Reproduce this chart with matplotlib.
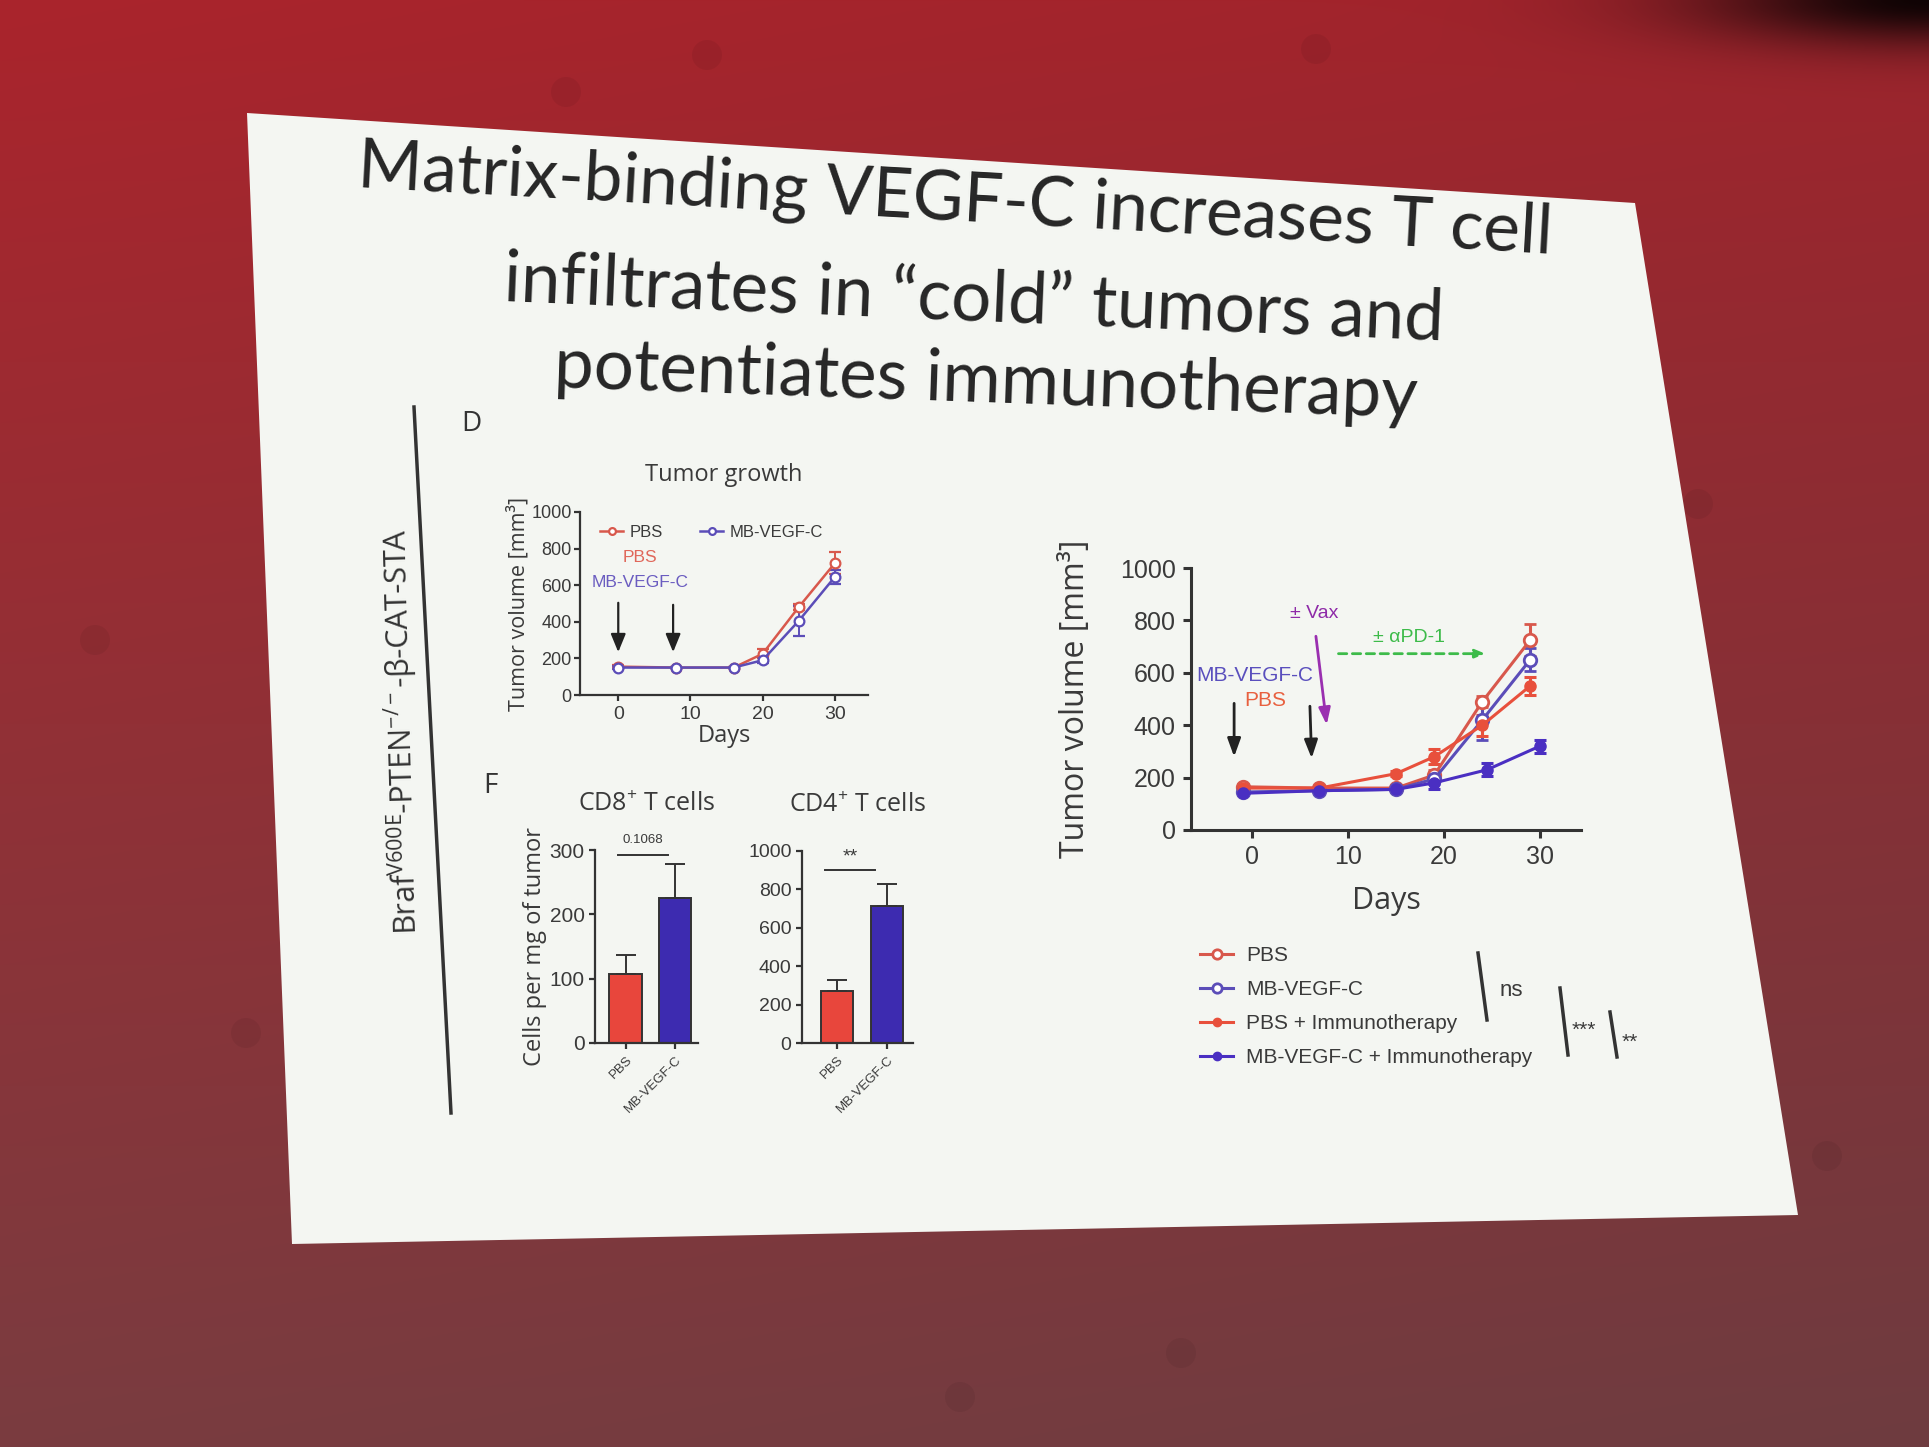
import matplotlib.pyplot as plt
import numpy as np
from matplotlib.patches import Polygon, Circle

plt.rcParams['mathtext.fontset'] = 'custom'
plt.rcParams['mathtext.rm'] = 'Open Sans'
plt.rcParams['mathtext.sf'] = 'Open Sans'
plt.rcParams['mathtext.it'] = 'Open Sans:italic'
plt.rcParams['mathtext.bf'] = 'Open Sans:bold'

W, H = 1929, 1447

# ---- panel D : tumor growth (no immunotherapy)
d_days    = [0, 8, 16, 20, 25, 30]
d_pbs     = [155, 150, 150, 225, 480, 720]
d_pbs_err = [8, 5, 5, 25, 15, 60]
d_mb      = [150, 150, 150, 190, 405, 645]
d_mb_err  = [8, 5, 5, 15, 80, 40]

# ---- panel F : T cell counts
groups   = ['PBS', 'MB-VEGF-C']
cd8_mean = [107, 226]
cd8_err  = [30, 52]
cd4_mean = [272, 716]
cd4_err  = [54, 112]

# ---- right panel : with immunotherapy
r_days      = [-1, 7, 15, 19, 24, 29]
r_days_mbi  = [-1, 7, 15, 19, 24.5, 30]
r_pbs       = [165, 160, 160, 210, 490, 725]
r_pbs_err   = [10, 8, 8, 20, 20, 60]
r_mb        = [145, 150, 155, 195, 420, 650]
r_mb_err    = [8, 8, 8, 20, 75, 45]
r_pbsi      = [160, 160, 215, 280, 400, 550]
r_pbsi_err  = [10, 8, 10, 30, 40, 35]
r_mbi       = [140, 150, 155, 180, 230, 320]
r_mbi_err   = [8, 8, 8, 25, 25, 25]
r_labels = ['PBS', 'MB-VEGF-C', 'PBS + Immunotherapy', 'MB-VEGF-C + Immunotherapy']

c_pbs = '#d8584c'
c_mb = '#5b4db8'
c_pbsi = '#e8503c'
c_mbi = '#4a2fc2'
c_bar_red = '#e8463c'
c_bar_blue = '#3d2bb0'
c_txt = '#3a3a3a'


def fx(x):
    return x / W


def fy(y):
    return 1 - y / H


def box(l, t, r, b):
    return [l / W, 1 - b / H, (r - l) / W, (b - t) / H]


def prism_axes(ax, lw, tsize, ticklen, pad=3.5):
    for s in ['top', 'right']:
        ax.spines[s].set_visible(False)
    for s in ['left', 'bottom']:
        ax.spines[s].set_linewidth(lw)
        ax.spines[s].set_color('#333333')
    ax.tick_params(direction='out', length=ticklen, width=lw, colors='#333333',
                   labelsize=tsize, labelcolor=c_txt, pad=pad)
    ax.patch.set_alpha(0)
    for lab in ax.get_xticklabels() + ax.get_yticklabels():
        lab.set_family('Liberation Sans')


fig = plt.figure(figsize=(W / 100, H / 100), dpi=100)

# background : red projection screen + white slide
bg = fig.add_axes([0, 0, 1, 1])
yy, xx = np.mgrid[0:H, 0:W].astype(float)
t = yy / H
s = xx / W
img = np.zeros((H, W, 3))
img[..., 0] = 170 - 48 * t - 12 * s
img[..., 1] = 36 + 24 * t
img[..., 2] = 44 + 20 * t
dark = np.exp(-(((xx - W) / 230) ** 2 + (yy / 45) ** 2))
img *= (1 - 0.9 * dark)[..., None]
bg.imshow(np.clip(img, 0, 255).astype(np.uint8), extent=(0, W, H, 0), aspect='auto')
for cx, cy in [(566, 92), (707, 55), (1316, 49), (1698, 504), (1827, 1156),
               (246, 1033), (960, 1397), (1181, 1353), (95, 640)]:
    bg.add_patch(Circle((cx, cy), 15, color='#000000', alpha=0.06, lw=0))
bg.add_patch(Polygon([[247, 113], [1635, 203], [1798, 1215], [292, 1244]],
                     closed=True, facecolor='#f4f6f2', edgecolor='none'))
bg.plot([414, 451], [407, 1113], color='#333333', lw=2.5)
bg.set_xlim(0, W)
bg.set_ylim(H, 0)
bg.axis('off')

# title
tfont = dict(family='Lato', color='#262626', ha='center', va='center', rotation_mode='anchor')
fig.text(fx(955), fy(201), 'Matrix-binding VEGF-C increases T cell', fontsize=50, rotation=-3.2, **tfont)
fig.text(fx(974), fy(301), 'infiltrates in \u201ccold\u201d tumors and', fontsize=51, rotation=-2.4, **tfont)
fig.text(fx(986), fy(382), 'potentiates immunotherapy', fontsize=51, rotation=-2.0, **tfont)

fig.text(fx(402), fy(732), 'Braf$^{\\mathrm{V600E}}$-PTEN$^{-/-}$-\u03b2-CAT-STA',
         fontsize=22, family='Open Sans', color='#333333', rotation=91.5,
         ha='center', va='center', rotation_mode='anchor')
fig.text(fx(471), fy(424), 'D', fontsize=20, family='Open Sans', color='#333333', ha='center', va='center')
fig.text(fx(490), fy(786), 'F', fontsize=20, family='Open Sans', color='#333333', ha='center', va='center')

# ---- panel D
ax_d = fig.add_axes(box(580, 512, 868, 695))
e1 = ax_d.errorbar(d_days, d_pbs, yerr=d_pbs_err, color=c_pbs, marker='o', ms=7, mfc='white',
                   mew=1.6, lw=1.8, capsize=4, elinewidth=1.4)
e2 = ax_d.errorbar(d_days, d_mb, yerr=d_mb_err, color=c_mb, marker='o', ms=7, mfc='white',
                   mew=1.6, lw=1.8, capsize=4, elinewidth=1.4)
ax_d.set_xlim(-5.3, 34.6)
ax_d.set_ylim(0, 1000)
ax_d.set_xticks([0, 10, 20, 30])
ax_d.set_yticks([0, 200, 400, 600, 800, 1000])
prism_axes(ax_d, 1.6, 13, 4, pad=2)
ax_d.tick_params(axis='x', labelsize=14, pad=4)
ax_d.set_title('Tumor growth', fontsize=17, family='Open Sans', color=c_txt, pad=22)
ax_d.set_xlabel('Days', fontsize=17, family='Open Sans', color=c_txt, labelpad=1)
ax_d.set_ylabel('Tumor volume [mm\u00b3]', fontsize=15.5, family='Open Sans', color=c_txt, labelpad=1)
ax_d.legend([e1[0], e2[0]], ['PBS', 'MB-VEGF-C'], ncol=2, loc='upper left',
            bbox_to_anchor=(fx(585), fy(510)), bbox_transform=fig.transFigure,
            frameon=False, prop={'family': 'Liberation Sans', 'size': 12},
            handlelength=1.4, handletextpad=0.4, columnspacing=2.2, markerscale=0.7,
            labelcolor=c_txt)
arr = dict(arrowstyle='-|>,head_width=0.45,head_length=1.1', color='#222222', lw=1.6)
ax_d.annotate('', xy=(0, 219), xytext=(0, 519), arrowprops=arr)
ax_d.annotate('', xy=(7.6, 219), xytext=(7.6, 508), arrowprops=arr)
ax_d.text(3.0, 749, 'PBS', color='#e0675a', fontsize=12.5, family='Liberation Sans', ha='center', va='center')
ax_d.text(3.0, 617, 'MB-VEGF-C', color='#6a5cc0', fontsize=12.5, family='Liberation Sans', ha='center', va='center')

# ---- panel F
x_bar = np.arange(len(groups))
ax8 = fig.add_axes(box(595, 850, 698, 1043))
ax8.bar(x_bar, cd8_mean, 0.67, color=[c_bar_red, c_bar_blue], edgecolor='#333333', lw=1.4)
ax8.errorbar(x_bar, cd8_mean, yerr=[[0, 0], cd8_err], fmt='none', ecolor='#333333',
             elinewidth=1.4, capsize=7, capthick=1.4)
ax8.set_xlim(-0.63, 1.47)
ax8.set_ylim(0, 300)
ax8.set_yticks([0, 100, 200, 300])
ax8.set_xticks(x_bar)
ax8.set_xticklabels(groups)
prism_axes(ax8, 1.6, 15, 4)
ax8.tick_params(axis='x', labelsize=9.5)
for lab in ax8.get_xticklabels():
    lab.set_rotation(45)
    lab.set_ha('right')
    lab.set_rotation_mode('anchor')
ax8.set_title(r'CD8$^{+}$ T cells', fontsize=18, family='Open Sans', color=c_txt, pad=28)
ax8.set_ylabel('Cells per mg of tumor', fontsize=17, family='Open Sans', color=c_txt, labelpad=2)
ax8.plot([-0.17, 0.85], [292, 292], color='#333333', lw=1.4, clip_on=False)
ax8.text(0.35, 306, '0.1068', fontsize=9.5, family='Liberation Sans', color=c_txt, ha='center', va='bottom')

ax4 = fig.add_axes(box(802, 851, 913, 1043))
ax4.bar(x_bar, cd4_mean, 0.65, color=[c_bar_red, c_bar_blue], edgecolor='#333333', lw=1.4)
ax4.errorbar(x_bar, cd4_mean, yerr=[[0, 0], cd4_err], fmt='none', ecolor='#333333',
             elinewidth=1.4, capsize=7, capthick=1.4)
ax4.set_xlim(-0.7, 1.52)
ax4.set_ylim(0, 1000)
ax4.set_yticks([0, 200, 400, 600, 800, 1000])
ax4.set_xticks(x_bar)
ax4.set_xticklabels(groups)
prism_axes(ax4, 1.6, 14, 4)
ax4.tick_params(axis='x', labelsize=9.5)
for lab in ax4.get_xticklabels():
    lab.set_rotation(45)
    lab.set_ha('right')
    lab.set_rotation_mode('anchor')
ax4.set_title(r'CD4$^{+}$ T cells', fontsize=18, family='Open Sans', color=c_txt, pad=28)
ax4.plot([-0.25, 0.76], [901, 901], color='#333333', lw=1.4, clip_on=False)
ax4.text(0.26, 925, '**', fontsize=14, family='Liberation Sans', color=c_txt, ha='center', va='bottom')

# ---- right panel
ax_r = fig.add_axes(box(1191, 568, 1581, 830))
kw = dict(marker='o', lw=2.2, capsize=4, elinewidth=2.2, capthick=2.2)
h1 = ax_r.errorbar(r_days, r_pbs, yerr=r_pbs_err, color=c_pbs, ms=9, mfc='white', mew=2, **kw)
h2 = ax_r.errorbar(r_days, r_mb, yerr=r_mb_err, color=c_mb, ms=9, mfc='white', mew=2, **kw)
h3 = ax_r.errorbar(r_days, r_pbsi, yerr=r_pbsi_err, color=c_pbsi, ms=8, **kw)
h4 = ax_r.errorbar(r_days_mbi, r_mbi, yerr=r_mbi_err, color=c_mbi, ms=8, **kw)
ax_r.set_xlim(-6.4, 34.3)
ax_r.set_ylim(0, 1000)
ax_r.set_xticks([0, 10, 20, 30])
ax_r.set_yticks([0, 200, 400, 600, 800, 1000])
prism_axes(ax_r, 2.2, 18, 6, pad=5)
ax_r.set_xlabel('Days', fontsize=22, family='Open Sans', color=c_txt, labelpad=12)
ax_r.set_ylabel('Tumor volume [mm\u00b3]', fontsize=23, family='Open Sans', color=c_txt, labelpad=20)

arr_r = dict(arrowstyle='-|>,head_width=0.4,head_length=1.1', color='#222222', lw=2)
ax_r.annotate('', xy=(-1.9, 269), xytext=(-1.9, 494), arrowprops=arr_r)
ax_r.annotate('', xy=(6.2, 263), xytext=(6.0, 483), arrowprops=arr_r)
ax_r.annotate('', xy=(7.8, 391), xytext=(6.6, 750),
              arrowprops=dict(arrowstyle='-|>,head_width=0.35,head_length=1.0', color='#9a2fb0', lw=2))
ax_r.annotate('', xy=(24.6, 673), xytext=(8.7, 673),
              arrowprops=dict(arrowstyle='-|>,head_width=0.25,head_length=0.6', color='#3dbb4a',
                              lw=2, linestyle=(0, (3, 2))))
ax_r.text(6.5, 827, '\u00b1 Vax', color='#8e2aa8', fontsize=14, family='Liberation Sans', ha='center', va='center')
ax_r.text(16.4, 735, '\u00b1 \u03b1PD-1', color='#3dbb4a', fontsize=14, family='Liberation Sans', ha='center', va='center')
ax_r.text(0.3, 590, 'MB-VEGF-C', color='#5a4fbd', fontsize=15, family='Liberation Sans', ha='center', va='center')
ax_r.text(1.4, 494, 'PBS', color='#e8603f', fontsize=15, family='Liberation Sans', ha='center', va='center')

ax_r.legend([h1[0], h2[0], h3[0], h4[0]], r_labels, loc='upper left',
            bbox_to_anchor=(fx(1200), fy(946)), bbox_transform=fig.transFigure,
            frameon=False, prop={'family': 'Liberation Sans', 'size': 15},
            handlelength=1.6, handletextpad=0.6, labelspacing=0.72, markerscale=0.75,
            borderpad=0, borderaxespad=0, labelcolor=c_txt)

# significance brackets next to the legend
bg.plot([1478, 1487], [953, 1020], color='#333333', lw=2.5)
bg.plot([1560, 1568], [988, 1055], color='#333333', lw=2.5)
bg.plot([1610, 1617], [1012, 1057], color='#333333', lw=2.5)
fig.text(fx(1500), fy(990), 'ns', fontsize=16, family='Liberation Sans', color=c_txt, va='center')
fig.text(fx(1572), fy(1030), '***', fontsize=15, family='Liberation Sans', color=c_txt, va='center')
fig.text(fx(1622), fy(1042), '**', fontsize=15, family='Liberation Sans', color=c_txt, va='center')

fig.savefig('out.png', dpi=100)
